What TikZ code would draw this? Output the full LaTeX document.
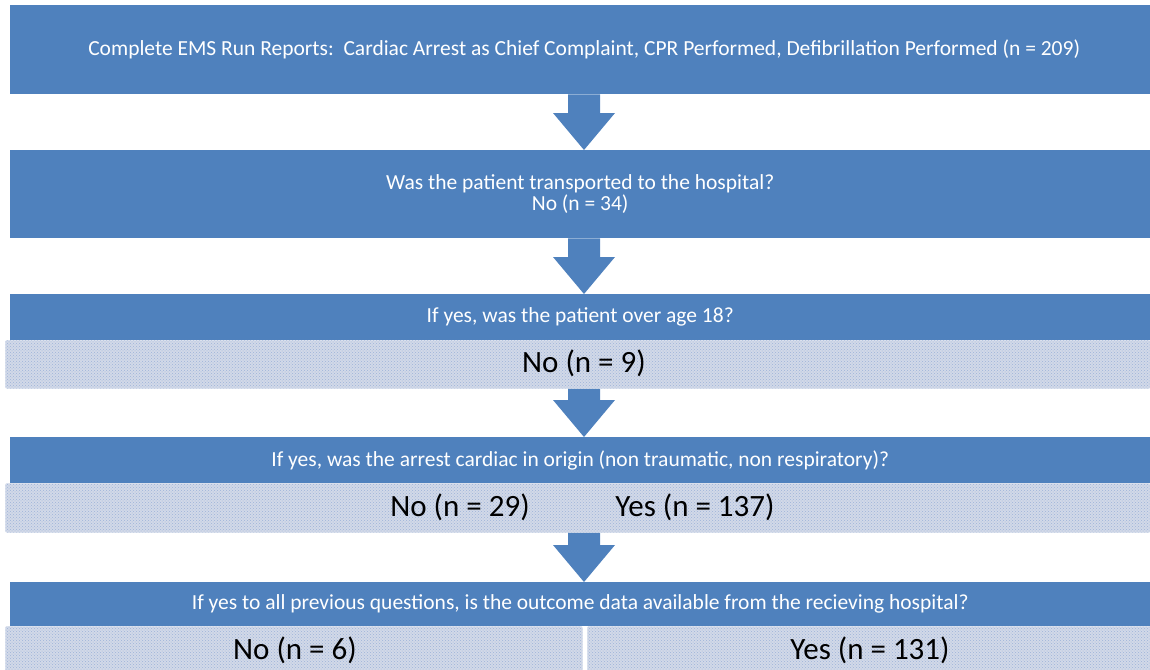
\documentclass[tikz,border=0pt]{standalone}
\usepackage{fontspec}
\setmainfont{Carlito}
\usetikzlibrary{calc,patterns}
\definecolor{boxblue}{HTML}{4F81BD}
\definecolor{patfill}{HTML}{D2D9E8}
\definecolor{patdot}{HTML}{9DB3D9}
\definecolor{patedge}{HTML}{DCE2EE}
\newcommand\blkarrow[2]{%
  \fill[boxblue] let \p1=(#1.south), \p2=(#2.north) in
    (568,\y1) -- (600,\y1) -- (600,\y2+37pt) -- (615,\y2+37pt) -- (584,\y2)
    -- (553,\y2+37pt) -- (568,\y2+37pt) -- cycle;}
\begin{document}
\begin{tikzpicture}[x=1pt,y=-1pt,
  qbox/.style={anchor=north west, fill=boxblue, draw=none, text=white, inner sep=0pt,
    minimum width=1140pt, align=center, font=\fontsize{21.5}{21}\selectfont},
  ansbox/.style={anchor=north west, fill=patfill, draw=patedge, line width=0.8pt,
    rounded corners=2pt, inner sep=0pt, postaction={pattern=crosshatch dots, pattern color=patdot}},
  anstext/.style={font=\fontsize{31}{34}\selectfont, text=black, inner sep=0pt}]
\useasboundingbox (0,0) rectangle (1150,669);
% question boxes
\node[qbox, minimum height=89pt] (b1) at (10,5)
  {\hspace*{8pt}Complete EMS Run Reports:\ \ Cardiac Arrest as Chief Complaint, CPR Performed, Defibrillation Performed (n = 209)};
\node[qbox, minimum height=88pt] (b2) at (10,150)
  {Was the patient transported to the hospital?\\No (n = 34)};
\node[qbox, minimum height=46pt] (b3) at (10,294)
  {If yes, was the patient over age 18?};
\node[ansbox, minimum width=1145pt, minimum height=48pt] (a3) at (5,340) {};
\node[qbox, minimum height=46pt] (b4) at (10,437)
  {If yes, was the arrest cardiac in origin (non traumatic, non respiratory)?};
\node[ansbox, minimum width=1145pt, minimum height=49pt] (a4) at (5,483) {};
\node[qbox, minimum height=44pt] (b5) at (10,582)
  {If yes to all previous questions, is the outcome data available from the recieving hospital?};
\node[ansbox, minimum width=577pt, minimum height=46pt] (a5l) at (5,626) {};
\node[ansbox, minimum width=566pt, minimum height=46pt] (a5r) at (587,626) {};
% answers
\node[anstext] (t3) at (584,363) {No (n = 9)};
\node[anstext] (t4n) at (460,507) {No (n = 29)};
\node[anstext] (t4y) at (695,507) {Yes (n = 137)};
\node[anstext] (t5n) at (295,650) {No (n = 6)};
\node[anstext] (t5y) at (870,650) {Yes (n = 131)};
% block arrows
\blkarrow{b1}{b2}
\blkarrow{b2}{b3}
\blkarrow{a3}{b4}
\blkarrow{a4}{b5}
\end{tikzpicture}
\end{document}
